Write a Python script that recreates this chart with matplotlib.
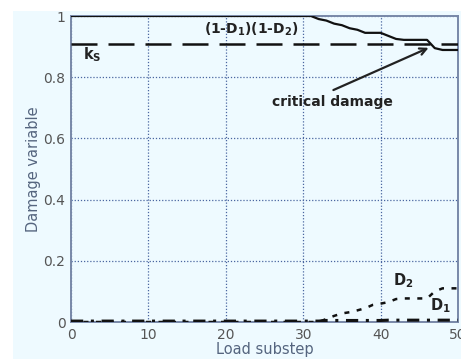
import matplotlib
matplotlib.use("Agg")
import matplotlib.pyplot as plt
from matplotlib.patches import Rectangle

# ---- data ----
substep = list(range(0, 51))
prod_tail = [0.99, 0.985, 0.975, 0.97, 0.96, 0.955, 0.945, 0.945, 0.945,
             0.935, 0.925, 0.922, 0.922, 0.922, 0.922, 0.895, 0.889, 0.889, 0.889]
prod = [1.0] * 32 + prod_tail            # (1-D1)(1-D2)
D2_tail = [0.01, 0.02, 0.028, 0.032, 0.038, 0.045, 0.056, 0.06, 0.065,
           0.075, 0.077, 0.077, 0.077, 0.077, 0.10, 0.11, 0.11, 0.11]
D2 = [0.0] * 33 + D2_tail
D1 = [0.003] * 33 + [0.005] * 8 + [0.006] * 10
ks = 0.907
xticks = [0, 10, 20, 30, 40, 50]
yticks = [0, 0.2, 0.4, 0.6, 0.8, 1.0]
yticklabels = ["0", "0.2", "0.4", "0.6", "0.8", "1"]

plt.rcParams['font.family'] = ['DejaVu Sans']
plt.rcParams['mathtext.fontset'] = 'custom'
plt.rcParams['mathtext.bf'] = 'DejaVu Sans:bold'
plt.rcParams['mathtext.rm'] = 'DejaVu Sans'

bg = '#eefaff'
fig = plt.figure(figsize=(4.61, 3.59), dpi=100, facecolor='white')
fig.patches.append(Rectangle((13 / 461, 0), 1, 1 - 11 / 359, transform=fig.transFigure,
                             facecolor=bg, edgecolor='none', zorder=-10))
ax = fig.add_axes([71 / 461, 1 - 322 / 359, (458 - 71) / 461, (322 - 16) / 359])
ax.set_facecolor(bg)

ax.plot(substep, prod, color='#111111', lw=1.6, zorder=3)
ax.axhline(ks, color='#111111', lw=1.8, dashes=(10.4, 4.4), zorder=3)
ax.plot(substep, D2, color='#111111', lw=1.8, dashes=(2, 3), zorder=3)
ax.plot(substep, D1, color='#111111', lw=2.2, dashes=(4, 2.5, 1, 2.5), zorder=3)

ax.set_xlim(0, 50)
ax.set_ylim(0, 1)
ax.set_xticks(xticks)
ax.set_yticks(yticks)
ax.set_yticklabels(yticklabels)
ax.tick_params(length=0, labelsize=10, labelcolor='#555555', pad=4)
ax.grid(True, color='#4a66a0', linestyle=(0, (1, 1.5)), lw=0.9)
for s in ax.spines.values():
    s.set_color('#7888a8')
    s.set_linewidth(1.4)

ax.set_xlabel('Load substep', fontsize=10.5, color='#55657f', labelpad=0)
ax.set_ylabel('Damage variable', fontsize=10.5, color='#55657f', labelpad=2)

tc = '#222222'
ax.text(1.6, 0.873, r'k$_\mathbf{S}$', fontsize=10.5, fontweight='bold', color=tc,
        ha='left', va='center')
ax.text(23.3, 0.955, r'(1-D$_\mathbf{1}$)(1-D$_\mathbf{2}$)', fontsize=10,
        fontweight='bold', color=tc, ha='center', va='center')
ax.text(26.0, 0.72, 'critical damage', fontsize=10, fontweight='bold', color=tc,
        ha='left', va='center')
ax.annotate('', xy=(46.2, 0.896), xytext=(33.9, 0.758),
            arrowprops=dict(arrowstyle='->', color=tc, lw=1.6, shrinkA=0, shrinkB=0,
                            mutation_scale=12))
ax.text(42.9, 0.135, r'D$_\mathbf{2}$', fontsize=10.5, fontweight='bold', color=tc,
        ha='center', va='center')
ax.text(47.7, 0.055, r'D$_\mathbf{1}$', fontsize=10.5, fontweight='bold', color=tc,
        ha='center', va='center')

fig.savefig('out.png', dpi=100, facecolor='white')
